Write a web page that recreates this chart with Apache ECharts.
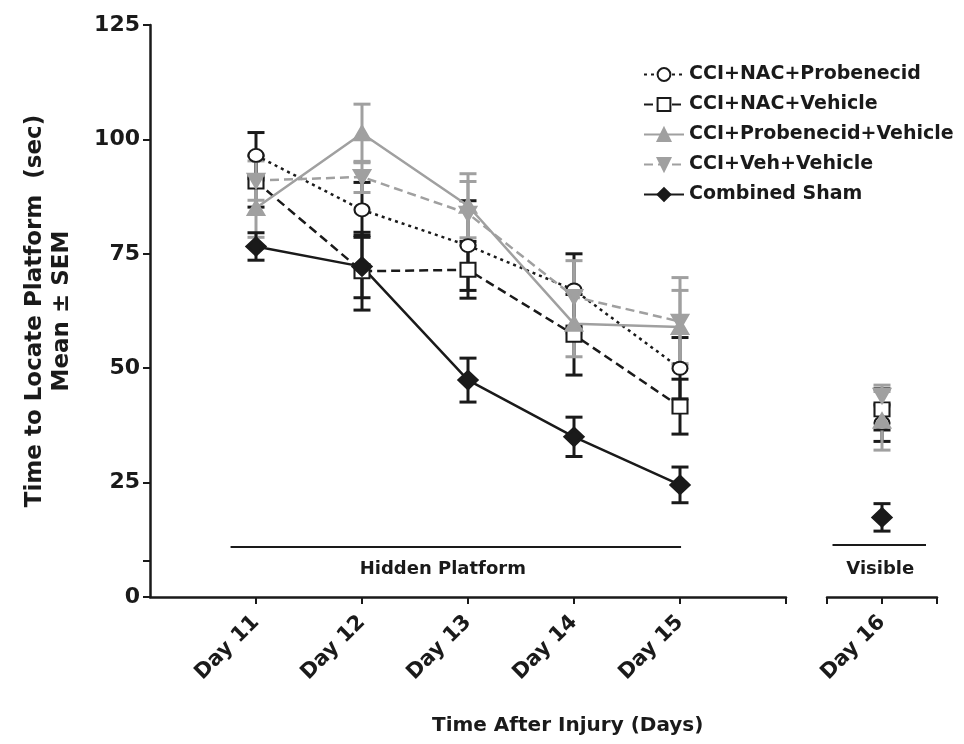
<!DOCTYPE html>
<html>
<head>
<meta charset="utf-8">
<script src="https://cdn.jsdelivr.net/npm/echarts@6/dist/echarts.min.js"></script>
<style>
html,body{margin:0;padding:0;background:#fff;}
#chart{width:964px;height:744px;}
</style>
</head>
<body>
<div id="chart"></div>
<script>
// ---- data ----
const days = [11, 12, 13, 14, 15];
const visibleDay = 16;
const seriesNames = ['CCI+NAC+Probenecid', 'CCI+NAC+Vehicle', 'CCI+Probenecid+Vehicle', 'CCI+Veh+Vehicle', 'Combined Sham'];

const nacProbMean = [96.5, 84.6, 76.8, 67.1, 50.0];
const nacProbSem  = [5.0, 6.0, 9.8, 7.9, 6.7];
const nacProbDay16 = [38.0, 4.0];

const nacVehMean = [90.8, 71.2, 71.5, 57.3, 41.6];
const nacVehSem  = [5.6, 8.5, 6.2, 8.8, 6.0];
const nacVehDay16 = [41.0, 4.5];

const probVehMean = [85.0, 101.3, 85.5, 59.7, 59.0];
const probVehSem  = [6.4, 6.4, 7.0, 7.2, 8.0];
const probVehDay16 = [38.5, 6.4];

const vehVehMean = [91.0, 91.8, 83.8, 65.6, 60.2];
const vehVehSem  = [4.3, 3.4, 7.0, 7.9, 9.6];
const vehVehDay16 = [44.0, 2.3];

const shamMean = [76.6, 72.2, 47.4, 35.0, 24.5];
const shamSem  = [3.0, 6.8, 4.8, 4.3, 3.9];
const shamDay16 = [17.4, 3.0];

const yTicks = [0, 25, 50, 75, 100, 125];
const yExtraTick = 8;

// ---- styling ----
const BLACK = '#1a1a1a';
const GRAY = '#a0a0a0';
const FONT = 'DejaVu Sans';

const styles = [
  {color: BLACK, type: [3, 4], symbol: 'emptyCircle', size: [15, 13]},
  {color: BLACK, type: [9, 5], symbol: 'emptyRect', size: [15, 14]},
  {color: GRAY, type: 'solid', symbol: 'triangle', size: [15, 13]},
  {color: GRAY, type: [9, 5], symbol: 'path://M0,0 L10,0 L5,9 Z', size: [15, 13]},
  {color: BLACK, type: 'solid', symbol: 'diamond', size: [18, 17]}
];
const means = [nacProbMean, nacVehMean, probVehMean, vehVehMean, shamMean];
const sems = [nacProbSem, nacVehSem, probVehSem, vehVehSem, shamSem];
const day16 = [nacProbDay16, nacVehDay16, probVehDay16, vehVehDay16, shamDay16];

function errRender(color) {
  return function (params, api) {
    const x = api.value(0), lo = api.value(1), hi = api.value(2);
    const a = api.coord([x, hi]), b = api.coord([x, lo]);
    const w = 8.5;
    const st = {stroke: color, lineWidth: 3};
    return {type: 'group', children: [
      {type: 'line', shape: {x1: a[0], y1: a[1], x2: b[0], y2: b[1]}, style: st},
      {type: 'line', shape: {x1: a[0] - w, y1: a[1], x2: a[0] + w, y2: a[1]}, style: st},
      {type: 'line', shape: {x1: b[0] - w, y1: b[1], x2: b[0] + w, y2: b[1]}, style: st}
    ]};
  };
}

const series = [];
seriesNames.forEach((name, i) => {
  const s = styles[i];
  series.push({
    name: name, type: 'line', xAxisIndex: 0, yAxisIndex: 0,
    data: days.map((d, k) => [d, means[i][k]]),
    symbol: s.symbol, symbolSize: s.size, showAllSymbol: true,
    lineStyle: {color: s.color, width: 2.5, type: s.type},
    itemStyle: {color: s.color, borderColor: s.color, borderWidth: 3},
    z: 4
  });
});
seriesNames.forEach((name, i) => {
  const s = styles[i];
  series.push({
    name: name, type: 'line', xAxisIndex: 1, yAxisIndex: 1,
    data: [[visibleDay, day16[i][0]]],
    symbol: s.symbol, symbolSize: s.size,
    lineStyle: {color: s.color, width: 2.5, type: s.type},
    itemStyle: {color: s.color, borderColor: s.color, borderWidth: 3},
    z: 4
  });
});
seriesNames.forEach((name, i) => {
  const s = styles[i];
  series.push({
    name: 'err' + i, type: 'custom', xAxisIndex: 0, yAxisIndex: 0,
    renderItem: errRender(s.color),
    data: days.map((d, k) => [d, means[i][k] - sems[i][k], means[i][k] + sems[i][k]]),
    encode: {x: 0, y: [1, 2]}, z: 3, silent: true
  });
  series.push({
    name: 'err16_' + i, type: 'custom', xAxisIndex: 1, yAxisIndex: 1,
    renderItem: errRender(s.color),
    data: [[visibleDay, day16[i][0] - day16[i][1], day16[i][0] + day16[i][1]]],
    encode: {x: 0, y: [1, 2]}, z: 3, silent: true
  });
});
series.push({
  name: 'hidden', type: 'line', xAxisIndex: 0, yAxisIndex: 0, data: [], silent: true,
  markLine: {
    symbol: 'none', silent: true, animation: false,
    lineStyle: {color: BLACK, width: 2, type: 'solid'},
    label: {show: true, position: 'insideMiddleBottom', formatter: 'Hidden Platform', color: BLACK,
      fontFamily: FONT, fontWeight: 'bold', fontSize: 18, distance: 10, offset: [-13, 4]},
    data: [[{coord: [10.76, 11]}, {coord: [15.01, 11]}]]
  }
});
series.push({
  name: 'visible', type: 'line', xAxisIndex: 1, yAxisIndex: 1, data: [], silent: true,
  markLine: {
    symbol: 'none', silent: true, animation: false,
    lineStyle: {color: BLACK, width: 2, type: 'solid'},
    label: {show: true, position: 'insideMiddleBottom', formatter: 'Visible', color: BLACK,
      fontFamily: FONT, fontWeight: 'bold', fontSize: 18, distance: 10, offset: [1, 6]},
    data: [[{coord: [15.55, 11.5]}, {coord: [16.4, 11.5]}]]
  }
});

const axisLineStyle = {color: BLACK, width: 2.5};
const tickLabel = {color: BLACK, fontFamily: FONT, fontWeight: 'bold'};

const option = {
  animation: false,
  backgroundColor: '#ffffff',
  grid: [
    {left: 150, top: 25, width: 636, height: 572},
    {left: 827, top: 25, width: 110, height: 572}
  ],
  xAxis: [
    {type: 'value', gridIndex: 0, min: 10, max: 16, interval: 1, splitLine: {show: false},
      axisLine: {lineStyle: axisLineStyle},
      axisTick: {show: true, length: 7, lineStyle: {width: 2, color: BLACK}, customValues: [11, 12, 13, 14, 15, 16]},
      axisLabel: Object.assign({rotate: 45, fontSize: 21, margin: 22, customValues: days,
        formatter: v => 'Day ' + v}, tickLabel)},
    {type: 'value', gridIndex: 1, min: 15.5, max: 16.5, interval: 0.5, splitLine: {show: false},
      axisLine: {lineStyle: axisLineStyle},
      axisTick: {show: true, length: 7, lineStyle: {width: 2, color: BLACK}, customValues: [15.5, 16, 16.5]},
      axisLabel: Object.assign({rotate: 45, fontSize: 21, margin: 22, customValues: [visibleDay],
        formatter: v => 'Day ' + v}, tickLabel)}
  ],
  yAxis: [
    {type: 'value', gridIndex: 0, min: 0, max: 125, interval: 25, splitLine: {show: false},
      axisLine: {show: true, lineStyle: axisLineStyle},
      axisTick: {show: true, length: 7, lineStyle: {width: 2, color: BLACK}, customValues: yTicks.concat([yExtraTick])},
      axisLabel: Object.assign({fontSize: 22, margin: 10, customValues: yTicks}, tickLabel),
      name: 'Time to Locate Platform  (sec)\nMean \u00B1 SEM', nameLocation: 'middle', nameGap: 74,
      nameTextStyle: {color: BLACK, fontFamily: FONT, fontWeight: 'bold', fontSize: 23, lineHeight: 27}},
    {type: 'value', gridIndex: 1, min: 0, max: 125, interval: 25, show: false}
  ],
  legend: {
    data: seriesNames, orient: 'vertical', left: 638, top: 60,
    itemWidth: 40, itemHeight: 16, itemGap: 11,
    textStyle: {color: BLACK, fontFamily: FONT, fontWeight: 'bold', fontSize: 19},
    selectedMode: false
  },
  graphic: [
    {type: 'text', left: 432, top: 716,
      style: {text: 'Time After Injury (Days)', fill: BLACK, font: 'bold 20px "DejaVu Sans"'}}
  ],
  series: series
};

const chart = echarts.init(document.getElementById('chart'), null, {renderer: 'canvas'});
chart.setOption(option);
</script>
</body>
</html>
